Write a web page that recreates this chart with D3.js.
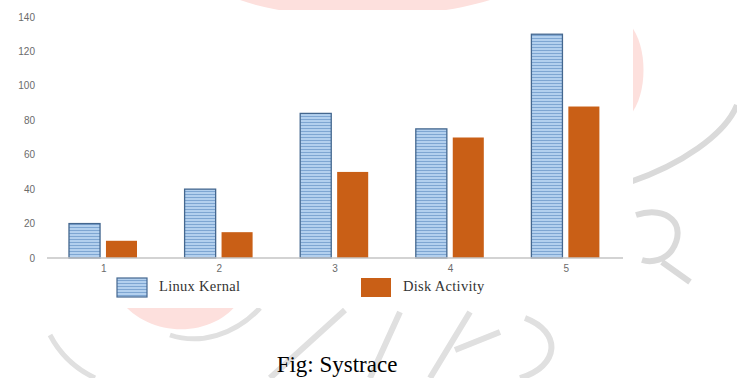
<!DOCTYPE html>
<html>
<head>
<meta charset="utf-8">
<script src="https://cdn.jsdelivr.net/npm/d3@7"></script>
<style>
  body { margin: 0; background: #fff; }
  svg { display: block; }
</style>
</head>
<body>
<script>
// data
var categories = ["1", "2", "3", "4", "5"];
var seriesNames = ["Linux Kernal", "Disk Activity"];
var linuxKernal = [20, 40, 84, 75, 130];
var diskActivity = [10, 15, 50, 70, 88];
var yTicks = [0, 20, 40, 60, 80, 100, 120, 140];

var width = 737, height = 378;

var svg = d3.select("body").append("svg")
    .attr("width", width)
    .attr("height", height);

// stripe fill for the Linux bars
var defs = svg.append("defs");
var pat = defs.append("pattern")
    .attr("id", "stripes")
    .attr("patternUnits", "userSpaceOnUse")
    .attr("width", 6)
    .attr("height", 3);
pat.append("rect").attr("width", 6).attr("height", 3).attr("fill", "#b3d0ee");
pat.append("rect").attr("y", 2).attr("width", 6).attr("height", 1).attr("fill", "#7ea6d2");

// faint watermark behind the pasted chart
var wm = svg.append("g").attr("fill", "none");
wm.append("path")
    .attr("d", "M240,0 C300,22 420,22 490,0 Z")
    .attr("fill", "#fde0dd").attr("stroke", "none");
wm.append("path")
    .attr("d", "M630,25 C648,45 648,95 630,115 Z")
    .attr("fill", "#fde0dd").attr("stroke", "none");
wm.append("path")
    .attr("d", "M120,300 C150,340 215,338 240,300 Z")
    .attr("fill", "#fde0dd").attr("stroke", "none");
wm.append("path")
    .attr("d", "M630,182 C680,165 725,135 737,105")
    .attr("stroke", "#dadada").attr("stroke-width", 6);
wm.append("path")
    .attr("d", "M636,215 C668,205 688,225 672,250 C665,260 652,263 642,260 M662,262 L690,282")
    .attr("stroke", "#dadada").attr("stroke-width", 6);
wm.append("path")
    .attr("d", "M50,335 C62,358 78,370 95,378 M170,335 C200,345 235,335 260,308")
    .attr("stroke", "#e0e0e0").attr("stroke-width", 5);
wm.append("path")
    .attr("d", "M270,378 L345,310 M370,378 L400,312 M430,378 L470,312 M455,350 L500,332 M525,318 C562,332 560,366 520,378")
    .attr("stroke", "#e0e0e0").attr("stroke-width", 6);

// white backing of the chart picture
svg.append("rect")
    .attr("x", 0).attr("y", 10)
    .attr("width", 633).attr("height", 298)
    .attr("fill", "#ffffff");

var x0 = d3.scaleBand()
    .domain(categories)
    .range([47, 625]);

var x1 = d3.scaleBand()
    .domain(seriesNames)
    .range([22, 90])
    .paddingInner(0.16);

var y = d3.scaleLinear()
    .domain([0, 140])
    .range([258, 17]);

// y tick labels
svg.append("g")
    .selectAll("text")
    .data(yTicks)
    .join("text")
    .attr("x", 35)
    .attr("y", function (d) { return y(d) + 3.5; })
    .attr("text-anchor", "end")
    .attr("font-family", "Liberation Sans, sans-serif")
    .attr("font-size", 10)
    .attr("fill", "#6b6b6b")
    .text(function (d) { return d; });

var rows = categories.map(function (c, i) {
    return { cat: c, values: [linuxKernal[i], diskActivity[i]] };
});

var groups = svg.append("g")
    .selectAll("g")
    .data(rows)
    .join("g")
    .attr("transform", function (d) { return "translate(" + x0(d.cat) + ",0)"; });

groups.selectAll("rect")
    .data(function (d) {
        return d.values.map(function (v, j) { return { name: seriesNames[j], value: v }; });
    })
    .join("rect")
    .attr("x", function (d) { return x1(d.name); })
    .attr("y", function (d) { return y(d.value); })
    .attr("width", x1.bandwidth())
    .attr("height", function (d) { return y(0) - y(d.value); })
    .attr("fill", function (d) { return d.name === seriesNames[0] ? "url(#stripes)" : "#c95f16"; })
    .attr("stroke", function (d) { return d.name === seriesNames[0] ? "#44678f" : "none"; })
    .attr("stroke-width", 1.3);

// x axis line
svg.append("line")
    .attr("x1", 47).attr("x2", 623)
    .attr("y1", y(0)).attr("y2", y(0))
    .attr("stroke", "#c4c4c4")
    .attr("stroke-width", 1.5);

// category labels
svg.append("g")
    .selectAll("text")
    .data(categories)
    .join("text")
    .attr("x", function (d) { return x0(d) + x0.bandwidth() / 2 - 1; })
    .attr("y", 272)
    .attr("text-anchor", "middle")
    .attr("font-family", "Liberation Sans, sans-serif")
    .attr("font-size", 10)
    .attr("fill", "#6b6b6b")
    .text(function (d) { return d; });

// legend
var legendX = [117, 361];
var legend = svg.append("g")
    .selectAll("g")
    .data(seriesNames)
    .join("g")
    .attr("transform", function (d, i) { return "translate(" + legendX[i] + ",278)"; });

legend.append("rect")
    .attr("width", 30)
    .attr("height", 19)
    .attr("fill", function (d, i) { return i === 0 ? "url(#stripes)" : "#c95f16"; })
    .attr("stroke", function (d, i) { return i === 0 ? "#44678f" : "none"; })
    .attr("stroke-width", 1.2);

legend.append("text")
    .attr("x", 42)
    .attr("y", 13)
    .attr("font-family", "Liberation Serif, serif")
    .attr("font-size", 14.5)
    .attr("letter-spacing", 0.3)
    .attr("fill", "#333")
    .text(function (d) { return d; });

// caption
svg.append("text")
    .attr("x", 337)
    .attr("y", 372)
    .attr("text-anchor", "middle")
    .attr("font-family", "Liberation Serif, serif")
    .attr("font-size", 23)
    .attr("fill", "#000")
    .text("Fig: Systrace");
</script>
</body>
</html>
